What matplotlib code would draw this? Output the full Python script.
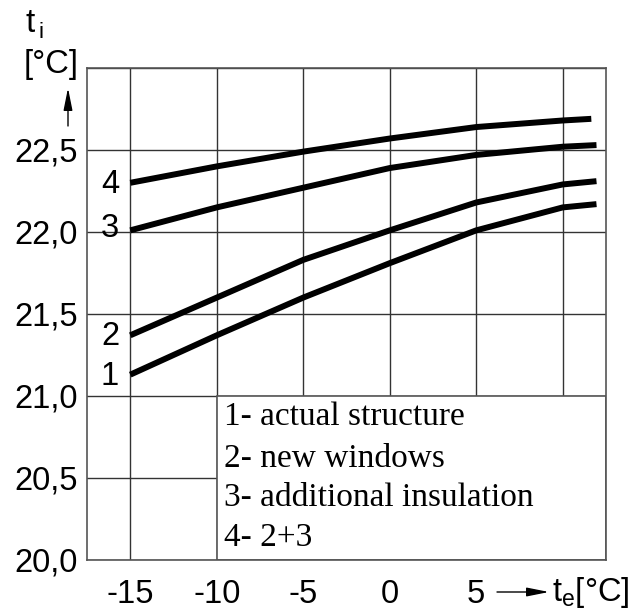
import matplotlib.pyplot as plt
from matplotlib.patches import Rectangle

plt.rcParams['font.family'] = ['Liberation Sans', 'DejaVu Sans']
plt.rcParams['mathtext.fontset'] = 'custom'
plt.rcParams['mathtext.rm'] = 'Liberation Sans'
plt.rcParams['mathtext.it'] = 'Liberation Sans'

# outdoor temperature t_e (°C) and indoor temperature t_i (°C)
te = [-15, -10, -5, 0, 5, 10, 11.95]
ti_1 = [21.13, 21.37, 21.60, 21.81, 22.01, 22.15, 22.17]
ti_2 = [21.37, 21.60, 21.83, 22.01, 22.18, 22.29, 22.31]
ti_3 = [22.01, 22.15, 22.27, 22.39, 22.47, 22.52, 22.53]
te_4 = [-15, -10, -5, 0, 5, 10, 11.65]
ti_4 = [22.30, 22.40, 22.49, 22.57, 22.64, 22.68, 22.69]

curve_labels = ['1', '2', '3', '4']
label_y = [21.12, 21.36, 22.02, 22.29]
legend_lines = ['1- actual structure', '2- new windows',
                '3- additional insulation', '4- 2+3']

xticks = [-15, -10, -5, 0, 5]
yticks = [20.0, 20.5, 21.0, 21.5, 22.0, 22.5]
ytick_labels = ['20,0', '20,5', '21,0', '21,5', '22,0', '22,5']

W, H = 637, 615
fig = plt.figure(figsize=(W / 100, H / 100), dpi=100)
ax = fig.add_axes([87 / W, 1 - 560 / H, (606 - 87) / W, (560 - 68) / H])

ax.set_xlim(-17.5, 12.5)
ax.set_ylim(20.0, 23.0)
ax.set_xticks(xticks + [10])
ax.set_xticklabels([str(t) for t in xticks] + [''])
ax.set_yticks(yticks + [23.0])
ax.set_yticklabels(ytick_labels + [''])
ax.tick_params(length=0, labelsize=23.5, pad=6.5)
ax.tick_params(axis='x', pad=14)
ax.grid(True, color='#333333', lw=1.0)
ax.set_axisbelow(True)
for s in ax.spines.values():
    s.set_color('#555555')
    s.set_linewidth(1.2)

# legend box hides the grid in the lower right
box = Rectangle((-10, 20.0), 22.5, 1.0, facecolor='white', edgecolor='#555555',
                lw=1.2, zorder=1)
ax.add_patch(box)
legend_y = [20.872, 20.616, 20.378, 20.137]
for txt, y in zip(legend_lines, legend_y):
    ax.text(-9.6, y, txt, family='Liberation Serif', fontsize=24,
            va='center', ha='left', zorder=2)

lw = 4.3
ax.plot(te, ti_1, color='black', lw=lw, solid_capstyle='butt', zorder=3)
ax.plot(te, ti_2, color='black', lw=lw, solid_capstyle='butt', zorder=3)
ax.plot(te, ti_3, color='black', lw=lw, solid_capstyle='butt', zorder=3)
ax.plot(te_4, ti_4, color='black', lw=lw, solid_capstyle='butt', zorder=3)

for lab, y in zip(curve_labels, label_y):
    ax.text(-16.17, y, lab, fontsize=23.5, ha='center', va='center', zorder=2)

arrow = '-|>,head_length=0.9,head_width=0.18'

# y axis title with arrow
fig.text(25 / W, 1 - 23 / H, 't', fontsize=24, ha='left', va='center')
fig.text(39 / W, 1 - 33 / H, 'i', fontsize=16, ha='left', va='center')
fig.text(51 / W, 1 - 65 / H, '[°C]', fontsize=23.5, ha='center', va='center')
ax.annotate('', xy=(68, H - 88), xytext=(68, H - 126), xycoords='figure pixels',
            textcoords='figure pixels',
            arrowprops=dict(arrowstyle=arrow, color='black', lw=1.0,
                            mutation_scale=15, shrinkA=0, shrinkB=0))

# x axis title with arrow
ax.annotate('', xy=(549, H - 592), xytext=(497, H - 592), xycoords='figure pixels',
            textcoords='figure pixels',
            arrowprops=dict(arrowstyle=arrow, color='black', lw=1.0,
                            mutation_scale=15, shrinkA=0, shrinkB=0))
fig.text(552 / W, 1 - 592 / H, r't$_\mathrm{e}$[°C]', fontsize=23.5, ha='left',
         va='center')

fig.savefig('out.png', dpi=100)
